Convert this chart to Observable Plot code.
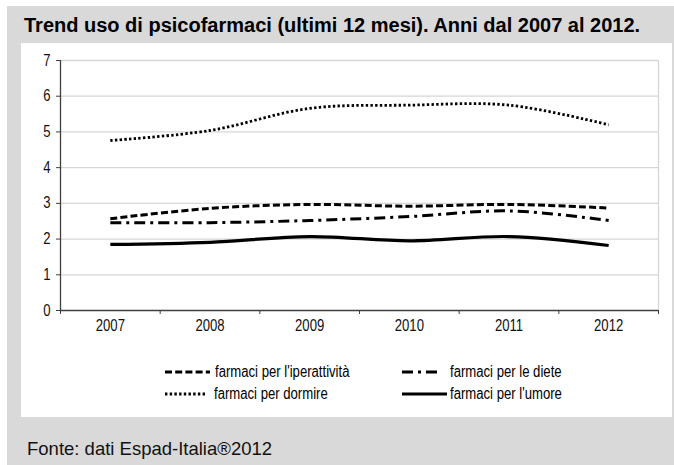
<!DOCTYPE html>
<html>
<head>
<meta charset="utf-8">
<script src="https://cdn.jsdelivr.net/npm/d3@7"></script>
<script src="https://cdn.jsdelivr.net/npm/@observablehq/plot@0.6"></script>
<style>
  html, body { margin: 0; padding: 0; background: #ffffff; width: 674px; height: 465px; overflow: hidden; }
  #frame { position: absolute; left: 7px; top: 6px; width: 667px; height: 459px; background: #d9d9d9; }
  #title { position: absolute; left: 24px; top: 14px; font: bold 20px "Liberation Sans", Arial, sans-serif; color: #000; white-space: nowrap; }
  #panel { position: absolute; left: 21px; top: 43px; width: 651px; height: 374px; background: #ffffff; }
  #chart { position: absolute; left: 0; top: 0; }
  .leg { position: absolute; font: 16px "Liberation Sans", Arial, sans-serif; color: #000; white-space: nowrap; line-height: 18px; transform: scaleX(0.82); transform-origin: 0 0; }
  #footer { position: absolute; left: 27px; top: 438px; font: 18.5px "Liberation Sans", Arial, sans-serif; color: #111; white-space: nowrap; }
</style>
</head>
<body>
<div id="frame"></div>
<div id="title">Trend uso di psicofarmaci (ultimi 12 mesi). Anni dal 2007 al 2012.</div>
<div id="panel"><div id="chart"></div><div id="legend"></div></div>
<div id="footer">Fonte: dati Espad-Italia®2012</div>
<script>
// ---- data ----
const years = [2007, 2008, 2009, 2010, 2011, 2012];
const seriesNames = ["farmaci per l'iperattività", "farmaci per le diete", "farmaci per dormire", "farmaci per l'umore"];
const iperattivita = [2.57, 2.86, 2.97, 2.92, 2.97, 2.87];
const diete = [2.46, 2.46, 2.52, 2.63, 2.79, 2.52];
const dormire = [4.76, 5.04, 5.66, 5.75, 5.75, 5.2];
const umore = [1.85, 1.91, 2.07, 1.95, 2.07, 1.82];
const yTicks = [0, 1, 2, 3, 4, 5, 6, 7];

// ---- styles ----
const seriesValues = [iperattivita, diete, dormire, umore];
const styles = [
  { dash: "7,3.2", width: 3 },
  { dash: "11,5,3,5", width: 3 },
  { dash: "2.4,2.3", width: 2.8 },
  { dash: null, width: 3.2 }
];

const rows = seriesNames.flatMap((name, s) =>
  years.map((year, i) => ({ serie: name, year, value: seriesValues[s][i] }))
);

const axisColor = "#3f3f3f";
const gridColor = "#d6d6d6";
const halfTicks = d3.range(years[0] - 0.5, years[years.length - 1] + 1, 1);

const lineMarks = seriesNames.map((name, s) =>
  Plot.line(rows.filter(d => d.serie === name), {
    x: "year", y: "value",
    stroke: "#000",
    strokeWidth: styles[s].width,
    strokeDasharray: styles[s].dash,
    strokeLinecap: "butt",
    curve: "catmull-rom"
  })
);

const chart = Plot.plot({
  width: 651,
  height: 305,
  marginLeft: 39,
  marginRight: 14,
  marginTop: 17,
  marginBottom: 38,
  x: { domain: [halfTicks[0], halfTicks[halfTicks.length - 1]] },
  y: { domain: [0, 7] },
  style: { fontFamily: "'Liberation Sans', Arial, sans-serif", fontSize: "16px", color: "#111", background: "transparent" },
  marks: [
    Plot.ruleY(yTicks.slice(1), { stroke: gridColor, strokeWidth: 1.3 }),
    Plot.ruleX([halfTicks[halfTicks.length - 1]], { stroke: gridColor, strokeWidth: 1.3 }),
    ...lineMarks,
    Plot.ruleX([halfTicks[0]], { stroke: axisColor, strokeWidth: 1.3 }),
    Plot.ruleY([0], { stroke: axisColor, strokeWidth: 1.3 }),
    Plot.axisY({ ticks: yTicks, tickSize: 4, tickPadding: 6, stroke: axisColor, tickFormat: d => String(d), label: null }),
    Plot.axisX({ ticks: halfTicks, tickSize: 4, stroke: axisColor, tickFormat: () => "", label: null }),
    Plot.axisX({ ticks: years, tickSize: 0, tickPadding: 9, tickFormat: d => String(d), label: null })
  ]
});
// condense tick labels horizontally (narrow typeface look)
chart.querySelectorAll("text").forEach(t => {
  const xa = t.getAttribute("x");
  let tr = t.getAttribute("transform") || "";
  if (xa != null && !/em/.test(xa)) {
    tr += ` translate(${parseFloat(xa)},0)`;
    t.removeAttribute("x");
  }
  t.setAttribute("transform", (tr + " scale(0.82,1)").trim());
});
document.getElementById("chart").appendChild(chart);

// ---- legend ----
const legendPos = [
  { sx: 144, sw: 45, tx: 194, y: 329 },
  { sx: 381, sw: 35, tx: 429, y: 329 },
  { sx: 144, sw: 42, tx: 193, y: 351 },
  { sx: 381, sw: 45, tx: 429, y: 351 }
];
const legend = document.getElementById("legend");
seriesNames.forEach((name, s) => {
  const p = legendPos[s];
  const sw = document.createElementNS("http://www.w3.org/2000/svg", "svg");
  sw.setAttribute("width", p.sw);
  sw.setAttribute("height", 8);
  sw.style.position = "absolute";
  sw.style.left = p.sx + "px";
  sw.style.top = (p.y - 4) + "px";
  const ln = document.createElementNS("http://www.w3.org/2000/svg", "line");
  ln.setAttribute("x1", 0); ln.setAttribute("x2", p.sw);
  ln.setAttribute("y1", 4); ln.setAttribute("y2", 4);
  ln.setAttribute("stroke", "#000");
  ln.setAttribute("stroke-width", styles[s].width);
  if (styles[s].dash) ln.setAttribute("stroke-dasharray", styles[s].dash);
  sw.appendChild(ln);
  legend.appendChild(sw);
  const t = document.createElement("div");
  t.className = "leg";
  t.textContent = name;
  t.style.left = p.tx + "px";
  t.style.top = (p.y - 9) + "px";
  legend.appendChild(t);
});
</script>
</body>
</html>
